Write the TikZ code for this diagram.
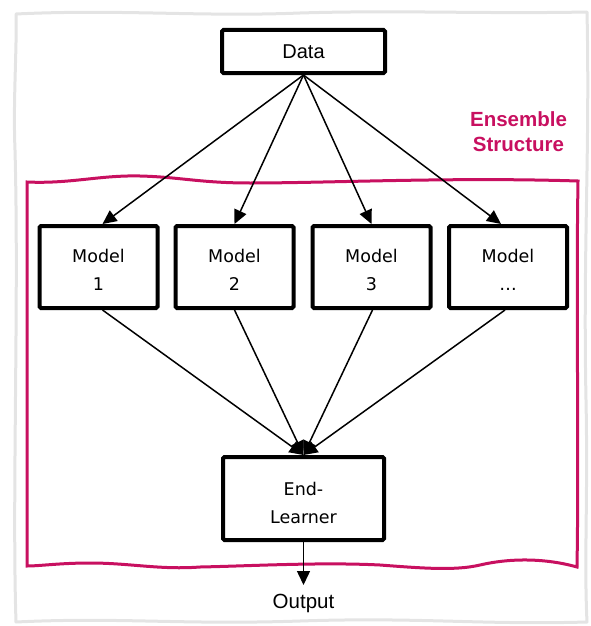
\documentclass[tikz,border=0pt]{standalone}
\usepackage{fontspec}
\setmainfont{Liberation Sans}
\newfontfamily\dvfont{DejaVu Sans}
\usetikzlibrary{arrows.meta}
\definecolor{ens}{RGB}{200,16,96}
\definecolor{framegray}{RGB}{228,228,228}
\newcommand\droptext[2]{\raisebox{-#1}[\height][\depth]{\begin{tabular}{@{}c@{}}#2\end{tabular}}}
\begin{document}
\begin{tikzpicture}[x=1pt,y=-1pt,
  box/.style={draw, line width=4pt, rounded corners=1.5pt, fill=white, inner sep=0pt},
  mtext/.style={font=\dvfont\fontsize{17.5}{28}\selectfont},
  modelbox/.style={box, mtext, minimum width=118pt, minimum height=82pt},
  arr/.style={-{Triangle[length=14pt,width=13pt]}, line width=1.5pt},
  wavyframe/.style={line width=3pt, line join=round, line cap=round}]
\useasboundingbox (0,0) rectangle (591,626);
% outer gray frame
\draw[wavyframe, draw=framegray]
  (16,14) .. controls (120,9) and (200,17) .. (300,13)
  .. controls (400,10) and (480,14) .. (587,12)
  .. controls (590,150) and (583,250) .. (586,400)
  .. controls (588,500) and (584,560) .. (587,622)
  .. controls (480,625) and (420,617) .. (300,621)
  .. controls (180,625) and (120,617) .. (16,622)
  .. controls (12,500) and (19,300) .. (15,150)
  .. controls (13,100) and (17,50) .. (16,14) -- cycle;
% ensemble frame
\draw[wavyframe, draw=ens, line join=miter]
  (27,182) .. controls (70,184) and (100,175) .. (140,176)
  .. controls (180,177) and (200,183) .. (250,183)
  .. controls (330,183) and (450,177) .. (578,181)
  .. controls (576,300) and (579,450) .. (577,567)
  .. controls (545,558) and (510,558) .. (480,565)
  .. controls (455,571) and (420,568) .. (380,565)
  .. controls (320,562) and (250,566) .. (200,567)
  .. controls (160,570) and (130,563) .. (90,563)
  .. controls (60,563) and (40,566) .. (27,566) -- cycle;
\node[font=\bfseries\fontsize{20.5}{25}\selectfont, text=ens, align=center] (enslabel) at (518.5,132) {Ensemble\\Structure};
% nodes
\node[box, font=\fontsize{20}{24}\selectfont, minimum width=163pt, minimum height=43pt] (data) at (303.5,51.5) {Data};
\node[modelbox] (m1) at (98.5,267) {\droptext{4pt}{Model\\1}};
\node[modelbox] (m2) at (234.5,267) {\droptext{4pt}{Model\\2}};
\node[modelbox] (m3) at (371.5,267) {\droptext{4pt}{Model\\3}};
\node[modelbox] (m4) at (508,267) {\droptext{4pt}{Model\\…}};
\node[box, mtext, minimum width=161pt, minimum height=83pt] (end) at (303.5,498.5) {\droptext{5pt}{End-\\Learner}};
\node[font=\fontsize{20.5}{24}\selectfont, inner sep=0pt, anchor=base] (out) at (303.5,608) {Output};
\coordinate (outtip) at (303.5,585);
% connectors
\draw[arr] (data.south) -- ([xshift=4pt]m1.north);
\draw[arr] (data.south) -- (m2.north);
\draw[arr] (data.south) -- (m3.north);
\draw[arr] (data.south) -- ([xshift=-7pt]m4.north);
\draw[arr] ([xshift=4pt]m1.south) -- (end.north);
\draw[arr] (m2.south) -- (end.north);
\draw[arr] ([xshift=1pt]m3.south) -- (end.north);
\draw[arr] ([xshift=-3pt]m4.south) -- (end.north);
\draw[arr] (end.south) -- (outtip);
\end{tikzpicture}
\end{document}
